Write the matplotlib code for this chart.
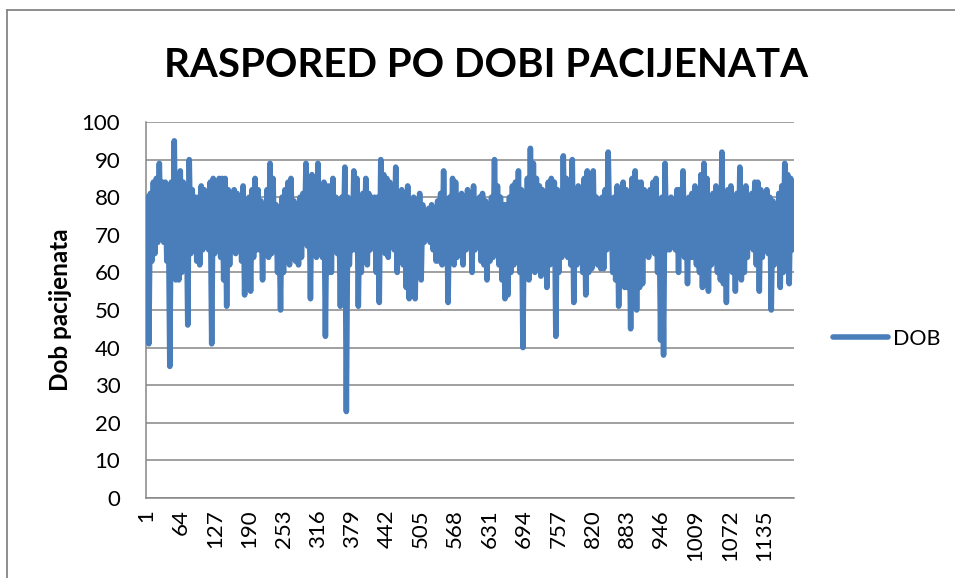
import matplotlib.pyplot as plt
from matplotlib.lines import Line2D
import numpy as np

plt.rcParams['font.family'] = ['Lato', 'DejaVu Sans']

# alternating high, low ages, left to right
dob = [
    80,41, 81,63, 84,65, 85,68, 89,70, 84,68, 84,63, 80,35, 84,66, 95,58,
    85,58, 87,60, 84,68, 82,46, 90,65, 82,66, 80,63, 80,62, 83,66, 82,68,
    81,66, 84,41, 85,65, 83,66, 85,64, 85,58, 85,51, 82,62, 80,67, 82,65,
    81,66, 80,63, 83,54, 78,66, 80,55, 82,64, 85,66, 82,66, 79,58, 78,66,
    82,64, 89,65, 85,66, 78,60, 75,50, 80,60, 82,63, 84,62, 85,64, 79,63,
    78,62, 80,64, 81,68, 89,67, 85,53, 86,65, 85,64, 89,68, 83,64, 84,43,
    83,60, 83,60, 85,66, 80,65, 78,51, 80,68, 88,23, 80,62, 75,66, 87,66,
    85,51, 80,60, 81,66, 85,62, 81,66, 80,68, 80,60, 80,52, 90,66, 86,65,
    85,64, 84,68, 80,66, 88,60, 81,68, 82,62, 78,56, 83,53, 79,60, 80,53,
    79,60, 81,58, 78,68, 76,70, 77,68, 78,66, 77,63, 79,63, 81,62, 87,66,
    79,52, 80,66, 85,62, 84,64, 80,68, 81,62, 80,66, 82,68, 80,60, 83,66,
    79,68, 80,63, 81,62, 79,58, 78,63, 80,64, 90,66, 83,62, 80,58, 78,53,
    78,54, 80,60, 83,62, 84,65, 87,60, 82,40, 80,60, 85,58, 93,62, 89,60,
    85,62, 83,59, 82,63, 78,56, 84,62, 85,64, 84,43, 82,60, 80,64, 91,66,
    85,64, 84,62, 90,52, 82,62, 83,64, 80,60, 85,54, 87,60, 85,61, 87,63,
    80,62, 78,61, 80,61, 82,66, 92,70, 78,60, 80,58, 83,51, 75,58, 84,56,
    82,56, 78,45, 85,60, 87,50, 84,56, 84,57, 82,66, 81,64, 82,66, 84,65,
    85,60, 78,42, 80,38, 89,66, 78,66, 80,68, 78,66, 82,60, 82,66, 87,64,
    78,57, 80,64, 81,64, 83,62, 81,60, 86,56, 89,60, 85,55, 80,62, 81,66,
    83,60, 80,58, 92,57, 80,52, 82,66, 83,60, 80,55, 81,62, 88,58, 82,60,
    83,64, 80,68, 81,66, 84,62, 84,55, 82,64, 80,66, 82,65, 80,50, 79,62,
    78,64, 81,56, 83,60, 89,65, 86,57, 85,66, 71,
]
y_ticks = [0, 10, 20, 30, 40, 50, 60, 70, 80, 90, 100]
x_ticks = [1, 64, 127, 190, 253, 316, 379, 442, 505, 568, 631, 694, 757, 820, 883, 946, 1009, 1072, 1135]

blue = '#4A7EBB'
grey = '#868686'

W, H = 955, 578
fig = plt.figure(figsize=(W / 100, H / 100), dpi=100)
ax = fig.add_axes([146 / W, 1 - 498 / H, (794 - 146) / W, (498 - 122) / H])

rec = np.linspace(3, 1189, len(dob))
ax.plot(rec, dob, color=blue, lw=4.0, solid_capstyle='round', solid_joinstyle='round', label='DOB', zorder=3)

ax.set_xlim(0.5, 1189.5)
ax.set_ylim(0, 100)
ax.set_yticks(y_ticks)
ax.set_xticks(x_ticks)
ax.set_xticklabels([str(t) for t in x_ticks], rotation=90, fontsize=16)
ax.tick_params(axis='y', length=0, labelsize=16, pad=18.5)
ax.tick_params(axis='x', length=0, pad=8)
ax.grid(axis='y', color=grey, lw=1.1)
ax.set_axisbelow(True)

for s in ['top', 'right']:
    ax.spines[s].set_visible(False)
for s in ['left', 'bottom']:
    ax.spines[s].set_color(grey)
    ax.spines[s].set_linewidth(1.1)

fig.text(60 / W, 1 - 310 / H, 'Dob pacijenata', fontsize=17.5, fontweight='bold',
         rotation=90, ha='center', va='center')
fig.text(486.5 / W, 1 - 77 / H, 'RASPORED PO DOBI PACIJENATA', fontsize=29, fontweight='bold',
         ha='center', va='baseline')

ax.legend(loc='center left', bbox_to_anchor=(833 / W, 1 - 339 / H), bbox_transform=fig.transFigure,
          frameon=False, fontsize=15.5, handlelength=2.55, handletextpad=0.25, borderpad=0, borderaxespad=0)

# chart frame
fig.add_artist(Line2D([7 / W, 7 / W], [0, 1 - 9.5 / H], color=grey, lw=1.3))
fig.add_artist(Line2D([7 / W, 1], [1 - 9.5 / H, 1 - 9.5 / H], color=grey, lw=1.3))

fig.savefig('out.png', dpi=100)
